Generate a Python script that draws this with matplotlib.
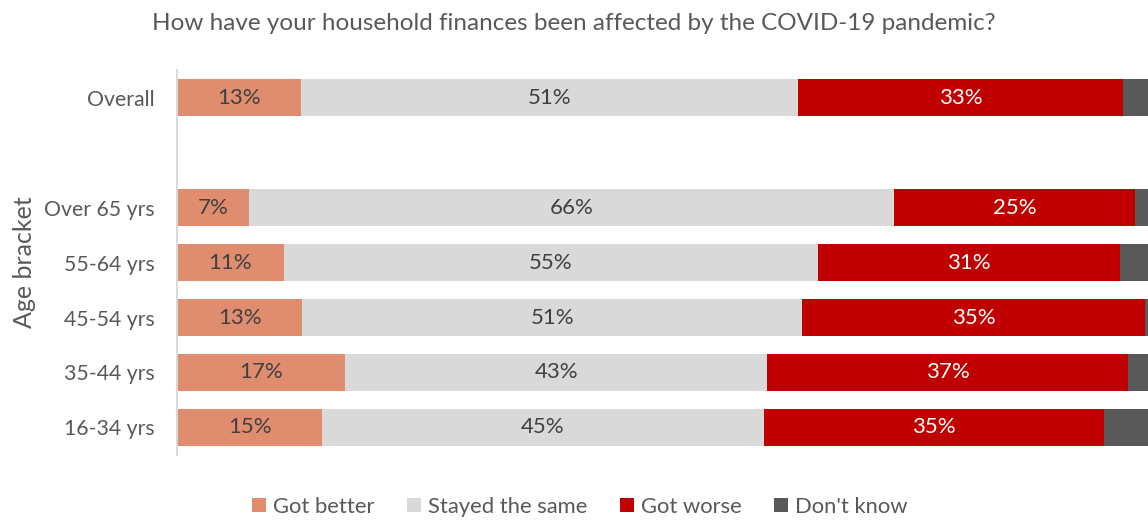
import matplotlib
matplotlib.use('Agg')
import matplotlib.pyplot as plt
import numpy as np

# survey shares (%), one entry per row, bottom to top
groups = ['16-34 yrs', '35-44 yrs', '45-54 yrs', '55-64 yrs', 'Over 65 yrs', '', 'Overall']
better = [14.95, 17.3, 12.9, 11.0, 7.4, 0, 12.8]
same = [45.49, 43.49, 51.49, 55.0, 66.49, 0, 51.2]
worse = [35.0, 37.2, 35.3, 31.1, 24.8, 0, 33.4]
dontknow = [4.56, 2.01, 0.31, 2.9, 1.31, 0, 2.6]

series = ['Got better', 'Stayed the same', 'Got worse', "Don't know"]
colours = ['#E08C6F', '#D9D9D9', '#C00000', '#595959']
labelcol = ['#404040', '#404040', 'white', None]

plt.rcParams['font.family'] = ['Lato', 'DejaVu Sans']

fig = plt.figure(figsize=(11.48, 5.21), dpi=100)
ax = fig.add_axes([0.1542, 0.1267, 0.8458, 0.7389])

y = np.arange(len(groups))
left = np.zeros(len(groups))
for vals, name, c, tc in zip([better, same, worse, dontknow], series, colours, labelcol):
    vals = np.array(vals)
    ax.barh(y, vals, left=left, height=0.66, color=c, label=name)
    if tc is not None:
        for yi, l, v in zip(y, left, vals):
            if v > 0:
                ax.text(l + v / 2, yi, '%.0f%%' % v, ha='center', va='center',
                        color=tc, fontsize=16)
    left += vals

ax.set_xlim(0, 100)
ax.set_ylim(-0.5, 6.5)
ax.set_yticks(y)
ax.set_yticklabels(groups, fontsize=15.3, color='#595959')
ax.tick_params(axis='y', length=0, pad=16)
ax.set_xticks([])
for s in ['top', 'right', 'bottom']:
    ax.spines[s].set_visible(False)
ax.spines['left'].set_color('#D9D9D9')
ax.spines['left'].set_linewidth(1.5)

ax.set_ylabel('Age bracket', fontsize=18, color='#595959', labelpad=6)
fig.text(0.5, 0.955, 'How have your household finances been affected by the COVID-19 pandemic?',
         ha='center', va='center', fontsize=17.5, color='#595959')

fig.legend(loc='center', bbox_to_anchor=(0.505, 0.027), ncol=4, frameon=False,
           fontsize=15.8, handlelength=0.64, handleheight=0.64, handletextpad=0.3,
           columnspacing=1.5, labelcolor='#595959')

fig.savefig('out.png', dpi=100)
